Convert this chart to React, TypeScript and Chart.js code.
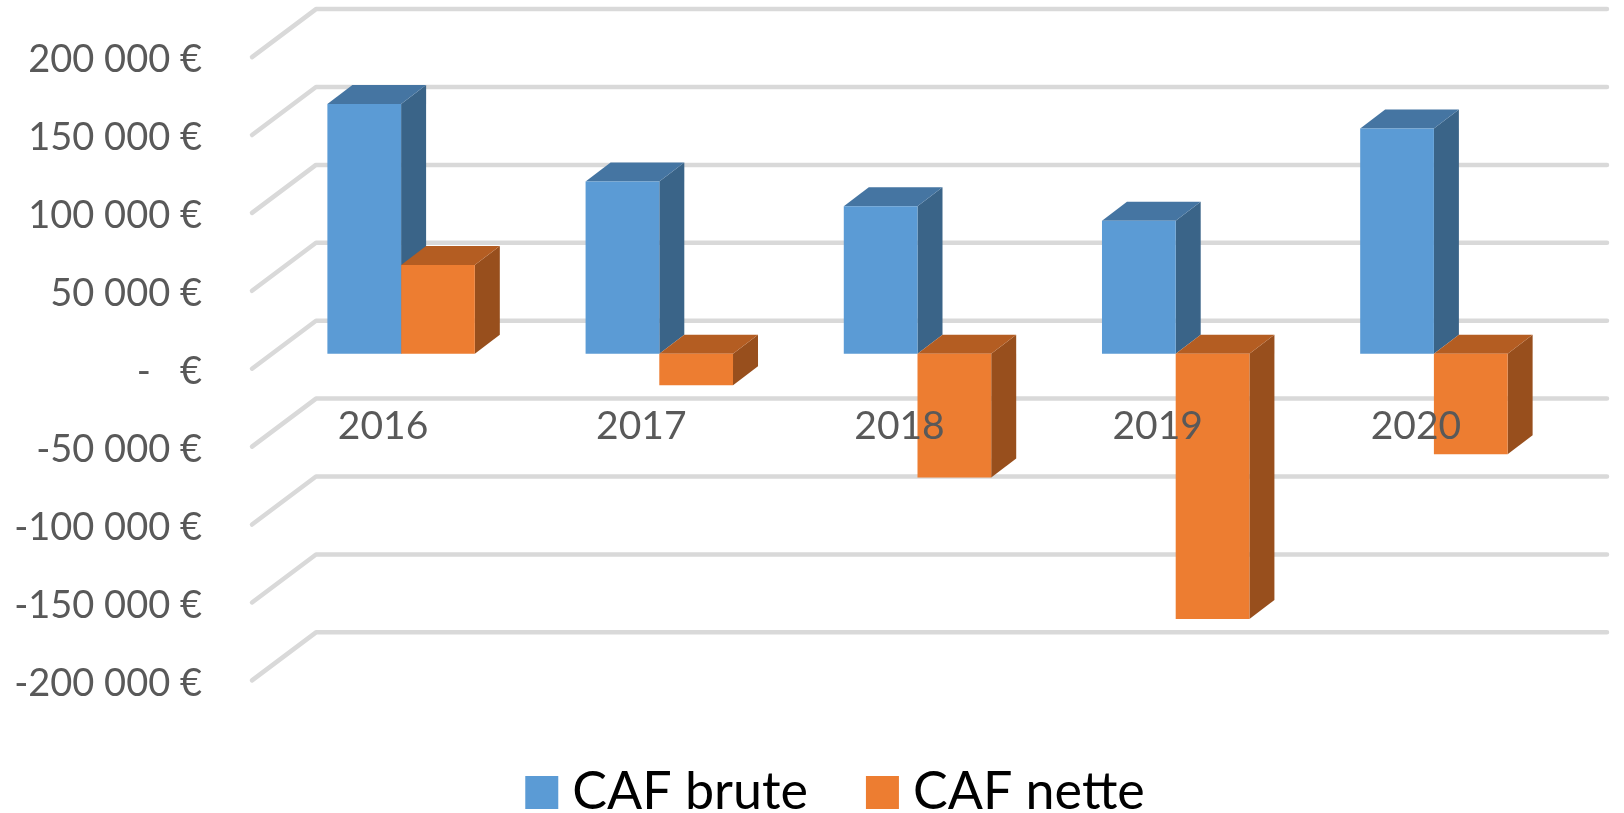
import React, { useEffect, useRef } from "react";
import { Chart, registerables } from "chart.js";

Chart.register(...registerables);

const categories = ["2016", "2017", "2018", "2019", "2020"];
const cafBrute = [160300, 110600, 94700, 85400, 144600];
const cafNette = [56900, -20300, -79500, -170300, -64600];
const tickValues = [200000, 150000, 100000, 50000, 0, -50000, -100000, -150000, -200000];

const FONT = "Lato";
const TEXT = "#595959";
const GRID = "#D9D9D9";
const BLUE = "#5B9BD5";
const ORANGE = "#ED7D31";
const BLUE_TOP = "#4575A2";
const BLUE_SIDE = "#3A6488";
const ORANGE_TOP = "#B45D22";
const ORANGE_SIDE = "#984F1D";

const fmt = (v: number) => {
  if (v === 0) return "-   €";
  const abs = Math.abs(v);
  const s = abs >= 1000 ? `${Math.floor(abs / 1000)} ${String(abs % 1000).padStart(3, "0")}` : String(abs);
  return `${v < 0 ? "-" : ""}${s} €`;
};

const wall3d = {
  id: "wall3d",
  afterLayout(chart: any) {
    // let the long tick labels run past the axis box instead of being clipped
    chart.scales.y.left = 0;
  },
  beforeDatasetsDraw(chart: any) {
    const { ctx, scales } = chart;
    const y = scales.y;
    ctx.save();
    ctx.strokeStyle = GRID;
    ctx.lineWidth = 4.5;
    ctx.lineJoin = "round";
    ctx.lineCap = "round";
    const right = chart.chartArea.right + 44;
    const frontX = chart.chartArea.left - 20;
    const backX = chart.chartArea.left + 44;
    tickValues.forEach((v) => {
      const p = y.getPixelForValue(v);
      ctx.beginPath();
      ctx.moveTo(frontX, p + 15);
      ctx.lineTo(backX, p - 33);
      ctx.lineTo(right, p - 33);
      ctx.stroke();
    });
    const dx = 25;
    const dy = 19;
    const faces = [
      [0, BLUE_TOP, BLUE_SIDE],
      [1, ORANGE_TOP, ORANGE_SIDE],
    ] as const;
    faces.forEach(([i, topC, sideC]) => {
      chart.getDatasetMeta(i).data.forEach((bar: any) => {
        const { x, y: vy, base, width } = bar.getProps(["x", "y", "base", "width"], true);
        const l = x - width / 2;
        const r = x + width / 2;
        const t = Math.min(vy, base);
        const b = Math.max(vy, base);
        ctx.fillStyle = sideC;
        ctx.beginPath();
        ctx.moveTo(r, t);
        ctx.lineTo(r + dx, t - dy);
        ctx.lineTo(r + dx, b - dy);
        ctx.lineTo(r, b);
        ctx.closePath();
        ctx.fill();
        ctx.fillStyle = topC;
        ctx.beginPath();
        ctx.moveTo(l, t);
        ctx.lineTo(l + dx, t - dy);
        ctx.lineTo(r + dx, t - dy);
        ctx.lineTo(r, t);
        ctx.closePath();
        ctx.fill();
      });
    });
    ctx.restore();
  },
};

export default function App() {
  const ref = useRef<HTMLCanvasElement>(null);
  useEffect(() => {
    const chart = new Chart(ref.current as HTMLCanvasElement, {
      type: "bar",
      data: {
        labels: categories,
        datasets: [
          { label: "CAF brute", data: cafBrute, backgroundColor: BLUE, categoryPercentage: 0.571, barPercentage: 1 },
          { label: "CAF nette", data: cafNette, backgroundColor: ORANGE, categoryPercentage: 0.571, barPercentage: 1 },
        ],
      },
      plugins: [wall3d],
      options: {
        animation: false,
        responsive: false,
        layout: { padding: { left: 119, right: 61, top: 42.1, bottom: 0 } },
        plugins: {
          tooltip: { enabled: false },
          legend: {
            display: true,
            position: "bottom",
            maxHeight: 116.5,
            labels: {
              color: TEXT,
              font: { family: FONT, size: 52 },
              boxWidth: 9,
              boxHeight: 9,
              padding: 70,
              generateLabels: (c: any) =>
                c.data.datasets.map((d: any, i: number) => ({
                  text: d.label,
                  fillStyle: d.backgroundColor,
                  strokeStyle: d.backgroundColor,
                  lineWidth: 24,
                  hidden: false,
                  datasetIndex: i,
                })),
            },
          },
        },
        scales: {
          x: {
            type: "category",
            position: { y: 0 },
            grid: { display: false, drawTicks: false },
            border: { display: false },
            afterFit: (axis: any) => {
              axis.height = 0;
              axis.paddingLeft = 0;
              axis.paddingRight = 0;
            },
            ticks: {
              z: 1,
              color: TEXT,
              font: { family: FONT, size: 39 },
              padding: 49,
              labelOffset: -18,
              maxRotation: 0,
              autoSkip: false,
            },
          },
          y: {
            type: "linear",
            min: -220000,
            max: 200000,
            afterBuildTicks: (axis: any) => {
              axis.ticks = tickValues.map((value) => ({ value }));
            },
            afterFit: (axis: any) => {
              axis.width = 153;
              axis.paddingTop = 0;
              axis.paddingBottom = 0;
            },
            grid: { display: false, drawTicks: false },
            border: { display: false },
            ticks: {
              color: TEXT,
              font: { family: FONT, size: 38 },
              padding: 70,
              labelOffset: 18,
              autoSkip: false,
              callback: (v: any) => fmt(Number(v)),
            },
          },
        },
      },
    } as any);
    return () => chart.destroy();
  }, []);
  return (
    <canvas
      ref={ref}
      width={1624}
      height={813}
      style={{ position: "absolute", left: 0, top: 0, display: "block" }}
    />
  );
}
